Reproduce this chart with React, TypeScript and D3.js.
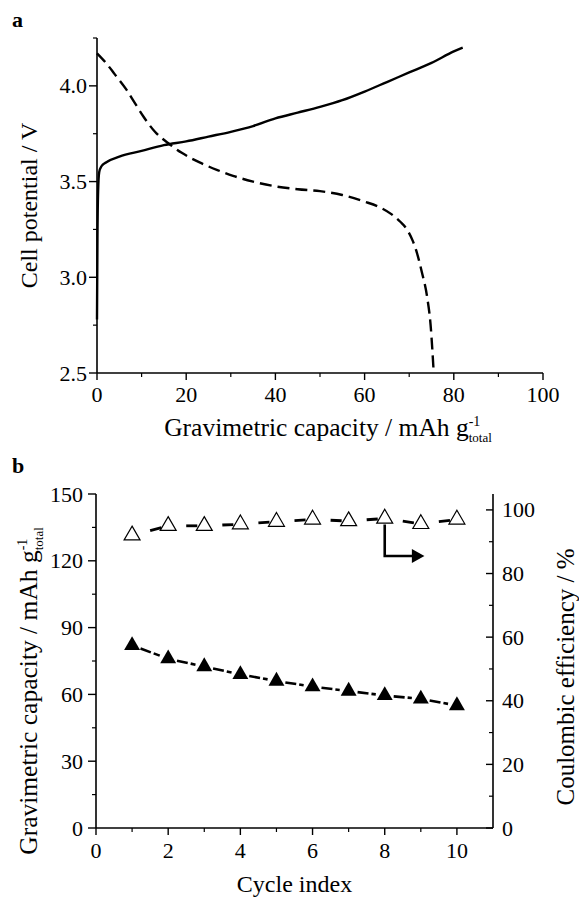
import React from "react";
import * as d3 from "d3";

// panel a: charge (solid) and discharge (dashed) curves, [capacity, voltage]
const chargeCurve: [number, number][] = [
  [0, 2.78], [0.1, 3.2], [0.25, 3.45], [0.5, 3.55], [1, 3.58], [2, 3.6],
  [5, 3.63], [10, 3.66], [15, 3.69], [20, 3.71], [25, 3.735], [30, 3.76],
  [35, 3.79], [40, 3.83], [45, 3.86], [50, 3.89], [55, 3.925], [60, 3.97],
  [65, 4.02], [70, 4.07], [75, 4.12], [80, 4.18], [82, 4.2],
];
const dischargeCurve: [number, number][] = [
  [0, 4.17], [2, 4.12], [4, 4.06], [6.6, 3.98], [8.5, 3.91], [10.4, 3.84],
  [13, 3.76], [16, 3.7], [19, 3.65], [23, 3.6], [27, 3.56], [30.5, 3.53],
  [35, 3.5], [40, 3.475], [45, 3.46], [50, 3.45], [55, 3.43], [60, 3.395],
  [63, 3.37], [66, 3.33], [68, 3.29], [69.5, 3.25], [70.8, 3.19], [71.7, 3.13],
  [72.8, 3.03], [74, 2.9], [74.8, 2.75], [75.5, 2.5],
];

// panel b: per-cycle values
const cycles = [1, 2, 3, 4, 5, 6, 7, 8, 9, 10];
const capacity = [82, 76, 72.5, 69, 66, 63.5, 61.5, 59.5, 58, 55];
const efficiency = [92, 95, 95, 95.5, 96.3, 97, 96.5, 97.3, 95.6, 97];

// tick values
const aXMajor = [0, 20, 40, 60, 80, 100];
const aXMinor = [10, 30, 50, 70, 90];
const aYMajor = [2.5, 3.0, 3.5, 4.0];
const aYMinor = [2.75, 3.25, 3.75, 4.25];
const bXMajor = [0, 2, 4, 6, 8, 10];
const bXMinor = [1, 3, 5, 7, 9];
const bYLMajor = [0, 30, 60, 90, 120, 150];
const bYLMinor = [15, 45, 75, 105, 135];
const bYRMajor = [0, 20, 40, 60, 80, 100];
const bYRMinor = [10, 30, 50, 70, 90];

const W = 579;
const H = 897;
const FONT = "'Liberation Serif', 'Times New Roman', serif";
const TICK_FS = 22;
const TITLE_FS = 24;
const GRAV_FS = 25.5;

const Unit = () => (
  <>
    {" / mAh g"}
    <tspan fontSize={14} dy={-10}>-1</tspan>
    <tspan fontSize={13} dx={-11.7} dy={16}>total</tspan>
  </>
);

const PanelA = () => {
  const x = d3.scaleLinear().domain([0, 100]).range([97, 543]);
  const y = d3.scaleLinear().domain([2.5, 4.25]).range([373, 38]);
  const line = d3
    .line<[number, number]>()
    .x((d) => x(d[0]))
    .y((d) => y(d[1]))
    .curve(d3.curveMonotoneX);
  const [x0, x1] = x.range();
  const [y0, y1] = y.range();

  return (
    <g>
      <text x={12} y={27} fontWeight="bold" fontSize={22}>a</text>

      {/* curves */}
      <path d={line(chargeCurve) || ""} fill="none" stroke="#000" strokeWidth={2.4} />
      <path
        d={line(dischargeCurve) || ""}
        fill="none"
        stroke="#000"
        strokeWidth={2.4}
        strokeDasharray="12,6"
      />

      {/* axes */}
      <line x1={x0} x2={x1} y1={y0} y2={y0} stroke="#000" strokeWidth={1.6} />
      <line x1={x0} x2={x0} y1={y0} y2={y1} stroke="#000" strokeWidth={1.6} />

      {aXMajor.map((v) => (
        <g key={"xM" + v}>
          <line x1={x(v)} x2={x(v)} y1={y0} y2={y0 + 7} stroke="#000" strokeWidth={1.4} />
          <text x={x(v)} y={402} textAnchor="middle" fontSize={TICK_FS}>{v}</text>
        </g>
      ))}
      {aXMinor.map((v) => (
        <line key={"xm" + v} x1={x(v)} x2={x(v)} y1={y0} y2={y0 + 4} stroke="#000" strokeWidth={1.2} />
      ))}
      {aYMajor.map((v) => (
        <g key={"yM" + v}>
          <line x1={x0 - 8} x2={x0} y1={y(v)} y2={y(v)} stroke="#000" strokeWidth={1.4} />
          <text x={87} y={y(v) + 7.5} textAnchor="end" fontSize={TICK_FS}>{v.toFixed(1)}</text>
        </g>
      ))}
      {aYMinor.map((v) => (
        <line key={"ym" + v} x1={x0 - 4} x2={x0} y1={y(v)} y2={y(v)} stroke="#000" strokeWidth={1.2} />
      ))}

      {/* titles */}
      <text x={328} y={436} textAnchor="middle" fontSize={GRAV_FS}>
        Gravimetric capacity
        <Unit />
      </text>
      <text
        transform={`translate(37, ${(y0 + y1) / 2}) rotate(-90)`}
        textAnchor="middle"
        fontSize={TITLE_FS}
      >
        Cell potential / V
      </text>
    </g>
  );
};

const PanelB = () => {
  const x = d3.scaleLinear().domain([0, 11]).range([96, 493]);
  const yL = d3.scaleLinear().domain([0, 150]).range([828, 494]);
  const yR = d3.scaleLinear().domain([0, 105]).range([828, 494]);
  const [x0, x1] = x.range();
  const [y0, y1] = yL.range();
  const tri = d3.symbol(d3.symbolTriangle, 110)() || "";

  const capPts = cycles.map((c, i) => [x(c), yL(capacity[i])]);
  const cePts = cycles.map((c, i) => [x(c), yR(efficiency[i])]);

  const seg = (p: number[], q: number[], a: number, b: number) => {
    const dx = q[0] - p[0];
    const dy = q[1] - p[1];
    const L = Math.hypot(dx, dy);
    const ux = dx / L;
    const uy = dy / L;
    const s = a < 1 ? a * L : a;
    const e = b < 0 ? L + b : b * L;
    return { x1: p[0] + ux * s, y1: p[1] + uy * s, x2: p[0] + ux * e, y2: p[1] + uy * e };
  };

  // arrow pointing to the right axis, starting at cycle 8 marker
  const ax = x(8);
  const ayTop = yR(efficiency[7]) + 6;
  const ayBot = yR(85.5);
  const axEnd = x(8.78);
  const axTip = x(9.1);

  return (
    <g>
      <text x={12} y={473} fontWeight="bold" fontSize={22}>b</text>

      {/* connectors */}
      {capPts.slice(1).map((q, i) => (
        <line
          key={"cs" + i}
          {...seg(capPts[i], q, 9, -9)}
          stroke="#000"
          strokeWidth={2.6}
          strokeDasharray="11,3"
        />
      ))}
      {cePts.slice(1).map((q, i) => (
        <line key={"es" + i} {...seg(cePts[i], q, 0.5, -7)} stroke="#000" strokeWidth={2.8} />
      ))}

      {/* markers */}
      {capPts.map((p, i) => (
        <path key={"cm" + i} d={tri} transform={`translate(${p[0]},${p[1]})`} fill="#000" />
      ))}
      {cePts.map((p, i) => (
        <path
          key={"em" + i}
          d={tri}
          transform={`translate(${p[0]},${p[1]})`}
          fill="#fff"
          stroke="#000"
          strokeWidth={1.2}
        />
      ))}

      {/* arrow */}
      <path
        d={`M${ax},${ayTop}V${ayBot}H${axEnd}`}
        fill="none"
        stroke="#000"
        strokeWidth={2.6}
      />
      <path d={`M${axTip},${ayBot}L${axEnd - 1},${ayBot - 7}L${axEnd - 1},${ayBot + 7}Z`} fill="#000" />

      {/* axes */}
      <line x1={x0} x2={x1} y1={y0} y2={y0} stroke="#000" strokeWidth={1.6} />
      <line x1={x0} x2={x0} y1={y0} y2={y1} stroke="#000" strokeWidth={1.6} />
      <line x1={x1} x2={x1} y1={y0} y2={y1} stroke="#000" strokeWidth={1.6} />

      {bXMajor.map((v) => (
        <g key={"xM" + v}>
          <line x1={x(v)} x2={x(v)} y1={y0} y2={y0 + 7} stroke="#000" strokeWidth={1.4} />
          <text x={x(v)} y={858} textAnchor="middle" fontSize={TICK_FS}>{v}</text>
        </g>
      ))}
      {bXMinor.map((v) => (
        <line key={"xm" + v} x1={x(v)} x2={x(v)} y1={y0} y2={y0 + 4} stroke="#000" strokeWidth={1.2} />
      ))}
      {bYLMajor.map((v) => (
        <g key={"lM" + v}>
          <line x1={x0 - 8} x2={x0} y1={yL(v)} y2={yL(v)} stroke="#000" strokeWidth={1.4} />
          <text x={83} y={yL(v) + 7.5} textAnchor="end" fontSize={TICK_FS}>{v}</text>
        </g>
      ))}
      {bYLMinor.map((v) => (
        <line key={"lm" + v} x1={x0 - 4} x2={x0} y1={yL(v)} y2={yL(v)} stroke="#000" strokeWidth={1.2} />
      ))}
      {bYRMajor.map((v) => (
        <g key={"rM" + v}>
          <line x1={x1 - 7} x2={x1} y1={yR(v)} y2={yR(v)} stroke="#000" strokeWidth={1.4} />
          <text x={502} y={yR(v) + 7.5} textAnchor="start" fontSize={TICK_FS}>{v}</text>
        </g>
      ))}
      {bYRMinor.map((v) => (
        <line key={"rm" + v} x1={x1 - 4} x2={x1} y1={yR(v)} y2={yR(v)} stroke="#000" strokeWidth={1.2} />
      ))}

      {/* titles */}
      <text x={(x0 + x1) / 2} y={892} textAnchor="middle" fontSize={TITLE_FS}>Cycle index</text>
      <text transform="translate(37, 691) rotate(-90)" textAnchor="middle" fontSize={GRAV_FS}>
        Gravimetric capacity
        <Unit />
      </text>
      <text transform="translate(574, 677) rotate(-90)" textAnchor="middle" fontSize={25}>
        Coulombic efficiency / %
      </text>
    </g>
  );
};

export default function App() {
  return (
    <svg
      width={W}
      height={H}
      style={{ position: "absolute", left: 0, top: 0, background: "#fff" }}
      fontFamily={FONT}
    >
      <rect width={W} height={H} fill="#fff" />
      <PanelA />
      <PanelB />
    </svg>
  );
}
